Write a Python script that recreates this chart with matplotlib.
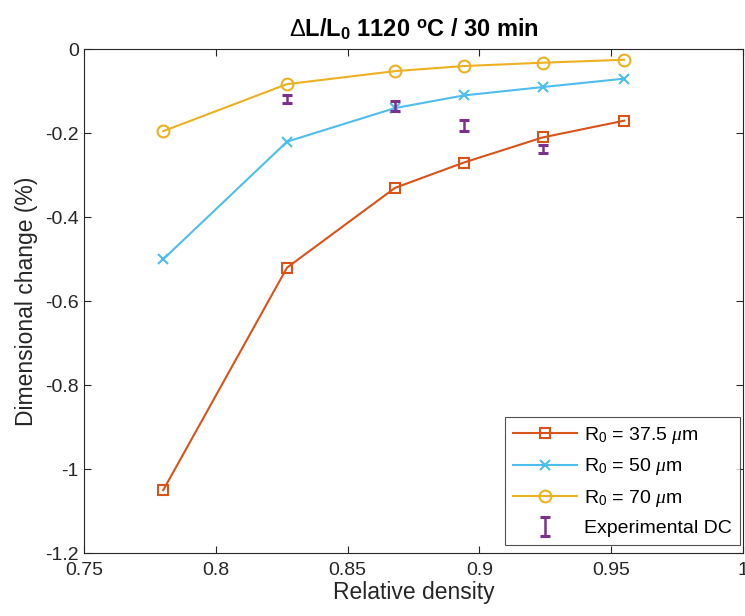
import matplotlib
matplotlib.use("Agg")
import matplotlib.pyplot as plt
import numpy as np

plt.rcParams['font.family'] = ['Liberation Sans', 'DejaVu Sans']
plt.rcParams['mathtext.fontset'] = 'custom'
plt.rcParams['mathtext.rm'] = 'Liberation Sans'
plt.rcParams['mathtext.it'] = 'Liberation Serif:italic'
plt.rcParams['mathtext.bf'] = 'Liberation Sans:bold'

# relative density of the compacts
rel_density = [0.78, 0.827, 0.868, 0.894, 0.924, 0.955]

# simulated dimensional change (%) per particle radius
dc_r375 = [-1.05, -0.52, -0.33, -0.27, -0.21, -0.17]
dc_r50 = [-0.50, -0.22, -0.14, -0.11, -0.09, -0.07]
dc_r70 = [-0.195, -0.083, -0.052, -0.04, -0.032, -0.025]

# experimental dimensional change with error
exp_density = [0.827, 0.868, 0.894, 0.924]
exp_dc = [-0.118, -0.135, -0.181, -0.238]
exp_err = [0.010, 0.012, 0.013, 0.010]

c_orange = '#D95319'
c_blue = '#4DBEEE'
c_yellow = '#EDB120'
c_purple = '#7E2F8E'
c_axis = '#262626'

fig = plt.figure(figsize=(7.45, 6.16), dpi=100)
ax = fig.add_axes([0.113, 0.102, 0.884, 0.818])

ax.plot(rel_density, dc_r375, '-s', color=c_orange, lw=1.5, ms=7,
        mfc='none', mew=1.5, label=r'R$_0$ = 37.5 $\mu$m')
ax.plot(rel_density, dc_r50, '-x', color=c_blue, lw=1.5, ms=7.5,
        mew=1.5, label=r'R$_0$ = 50 $\mu$m')
ax.plot(rel_density, dc_r70, '-o', color=c_yellow, lw=1.5, ms=8.5,
        mfc='none', mew=1.5, label=r'R$_0$ = 70 $\mu$m')
ax.errorbar(exp_density, exp_dc, yerr=exp_err, fmt='none', ecolor=c_purple,
            elinewidth=1.8, capsize=3.8, capthick=2.2, label='Experimental DC')

ax.set_xlim(0.75, 1.0)
ax.set_ylim(-1.2, 0)
ax.set_xticks([0.75, 0.8, 0.85, 0.9, 0.95, 1.0])
ax.set_xticklabels(['0.75', '0.8', '0.85', '0.9', '0.95', '1'])
ax.set_yticks([-1.2, -1, -0.8, -0.6, -0.4, -0.2, 0])
ax.set_yticklabels(['-1.2', '-1', '-0.8', '-0.6', '-0.4', '-0.2', '0'])

ax.tick_params(direction='in', length=5, width=0.8, top=True, right=True,
               labelsize=14, colors=c_axis)
ax.tick_params(axis='x', pad=6)
ax.tick_params(axis='y', pad=4)
for s in ax.spines.values():
    s.set_color(c_axis)
    s.set_linewidth(0.8)

ax.set_xlabel('Relative density', fontsize=16.5, color=c_axis, labelpad=2)
ax.set_ylabel('Dimensional change (%)', fontsize=16.5, color=c_axis, labelpad=5)
ax.set_title(r'$\Delta$L/L$_\mathbf{0}$ 1120 $^\mathbf{o}$C / 30 min',
             fontsize=17, fontweight='bold', pad=9)

leg = ax.legend(loc='lower right', bbox_to_anchor=(0.9954, 0.016),
                borderaxespad=0, fontsize=14, frameon=True, fancybox=False,
                edgecolor=c_axis, handlelength=3.3, handletextpad=0.35,
                labelspacing=0.55, borderpad=0.4)
leg.get_frame().set_linewidth(0.8)

fig.savefig('out.png', dpi=100)
